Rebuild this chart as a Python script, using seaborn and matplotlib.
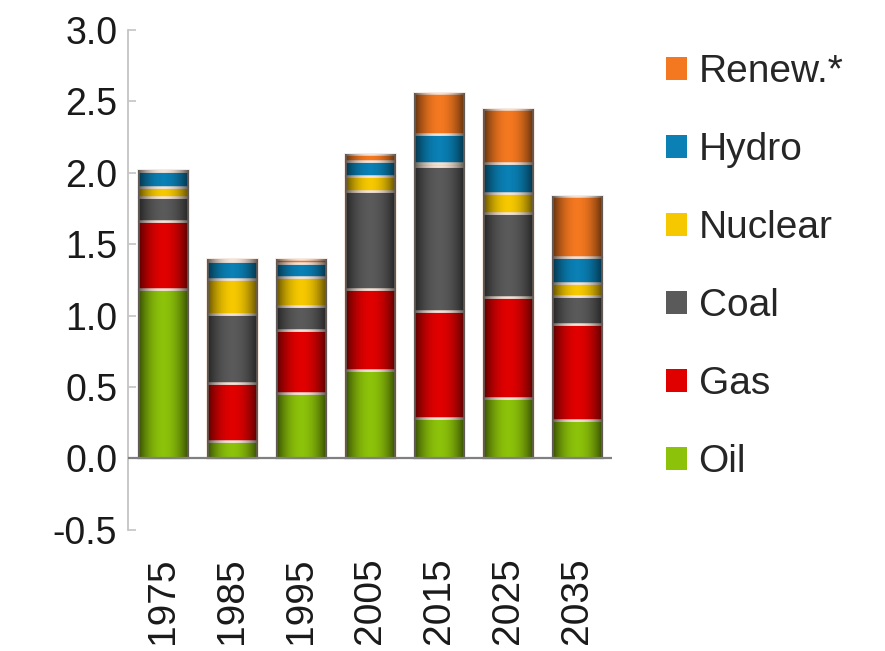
import numpy as np
import pandas as pd
import matplotlib
matplotlib.use("Agg")
import matplotlib.pyplot as plt
from matplotlib.patches import Patch
import seaborn as sns

# Energy-source contributions by decade (stacked from the bottom up)
years = ["1975", "1985", "1995", "2005", "2015", "2025", "2035"]
oil = [1.19, 0.12, 0.46, 0.62, 0.28, 0.42, 0.27]
gas = [0.47, 0.41, 0.44, 0.57, 0.75, 0.71, 0.67]
coal = [0.17, 0.48, 0.17, 0.68, 1.02, 0.59, 0.20]
nuclear = [0.07, 0.25, 0.20, 0.11, 0.02, 0.14, 0.09]
hydro = [0.11, 0.12, 0.10, 0.10, 0.20, 0.21, 0.18]
renew = [0.01, 0.02, 0.03, 0.05, 0.29, 0.375, 0.43]

series_names = ["Oil", "Gas", "Coal", "Nuclear", "Hydro", "Renew.*"]
series_values = [oil, gas, coal, nuclear, hydro, renew]
series_colors = ["#8cc20a", "#e00000", "#5a5a5a", "#f5c800", "#0a80b4", "#f47820"]

yticks = [-0.5, 0.0, 0.5, 1.0, 1.5, 2.0, 2.5, 3.0]

sns.set_theme(style="white")
plt.rcParams["font.family"] = ["Liberation Sans", "DejaVu Sans"]

fig = plt.figure(figsize=(8.85, 6.51), dpi=100)
ax = fig.add_axes([0.145, 0.186, 0.546, 0.768])

bottom = np.zeros(len(years))
for name, vals, col in zip(series_names, series_values, series_colors):
    df = pd.DataFrame({"year": years, "value": vals})
    sns.barplot(data=df, x="year", y="value", ax=ax, color=col,
                saturation=1, width=0.73, errorbar=None,
                bottom=bottom, edgecolor="#f3e2d8", linewidth=1.8)
    bottom = bottom + np.asarray(vals)

# cylindrical shading across each bar
t = np.linspace(0, 1, 64)
shade = 0.62 * np.abs(2 * t - 1) ** 2.0
grad = np.zeros((1, t.size, 4))
grad[..., 3] = shade
for p in list(ax.patches):
    x0, y0 = p.get_x(), p.get_y()
    w, h = p.get_width(), p.get_height()
    if h <= 0:
        continue
    im = ax.imshow(grad, extent=[x0, x0 + w, y0, y0 + h], aspect="auto",
                   interpolation="bicubic", zorder=p.get_zorder() + 0.1)
    im.set_clip_path(p)

ax.set_xlim(-0.5, 6.5)
ax.set_ylim(-0.5, 3.0)
ax.set_yticks(yticks)
ax.set_yticklabels([f"{v:.1f}" for v in yticks])
ax.set_xlabel("")
ax.set_ylabel("")

for s in ["top", "right", "bottom"]:
    ax.spines[s].set_visible(False)
ax.spines["left"].set_color("#c4c4c4")
ax.spines["left"].set_linewidth(1.3)
ax.axhline(0, color="#808080", lw=1.6, zorder=5)

ax.tick_params(axis="y", direction="in", length=6, width=1.2, color="#c4c4c4",
               labelsize=27, pad=8, left=True)
ax.tick_params(axis="x", length=0, labelsize=28, pad=20, labelrotation=90)
for lbl in ax.get_xticklabels() + ax.get_yticklabels():
    lbl.set_color("#1a1a1a")

handles = [Patch(facecolor=c, edgecolor="none") for c in series_colors][::-1]
labels = series_names[::-1]
fig.legend(handles, labels, loc="upper left", bbox_to_anchor=(0.752, 0.917),
           frameon=False, fontsize=28, handlelength=0.55, handleheight=0.55,
           handletextpad=0.3, labelspacing=1.08, borderpad=0, borderaxespad=0)

fig.savefig("out.png", dpi=100)
